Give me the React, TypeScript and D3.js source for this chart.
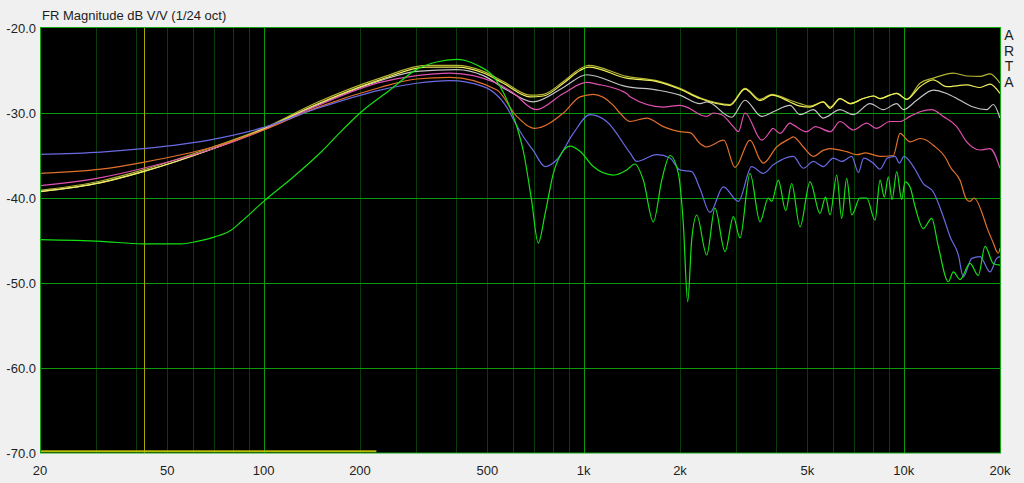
import React from "react";
import * as d3 from "d3";

const W = 1024;
const H = 483;

const xTickVals = [20, 50, 100, 200, 500, 1000, 2000, 5000, 10000, 20000];
const xTickLabels = ["20", "50", "100", "200", "500", "1k", "2k", "5k", "10k", "20k"];
const yTickVals = [-20, -30, -40, -50, -60, -70];
const yTickLabels = ["-20.0", "-30.0", "-40.0", "-50.0", "-60.0", "-70.0"];
const minorGrid = [30, 40, 50, 60, 70, 80, 90, 200, 300, 400, 500, 600, 700, 800, 900, 2000, 3000, 4000, 5000, 6000, 7000, 8000, 9000];
const majorGrid = [100, 1000, 10000];
const cursorFreq = 42.3;
const rangeBar = [20, 225];
const rangeBarDb = -69.8;

const oliveData: [number, number][] = [[20,-39.1],[31,-38.0],[42,-36.7],[69.4,-34.0],[100,-31.8],[146,-28.8],[231,-25.9],[323,-24.4],[401,-24.4],[486,-25.1],[561,-26.3],[680,-27.9],[748,-27.8],[864,-26.3],[974,-24.8],[1035,-24.4],[1363,-25.7],[1692,-26.2],[2000,-27.1],[2310,-28.2],[2867,-29.0],[3192,-27.1],[3557,-28.4],[3870,-27.8],[4414,-28.5],[4743,-28.9],[5098,-29.2],[5608,-28.7],[5887,-29.3],[6325,-28.3],[6798,-28.9],[7479,-28.3],[8040,-28.0],[8435,-28.3],[9064,-27.9],[9512,-27.7],[10218,-28.4],[11247,-26.5],[12376,-25.9],[14298,-25.3],[15738,-25.65],[17320,-25.7],[18612,-25.4],[20000,-26.5]];

const yellowData: [number, number][] = [[20,-39.26],[31,-38.2],[42,-36.9],[69.4,-34.2],[100,-31.9],[146,-29.0],[231,-26.1],[323,-24.6],[401,-24.6],[486,-25.3],[561,-26.5],[680,-28.1],[748,-28.0],[864,-26.5],[974,-25.0],[1035,-24.6],[1363,-25.9],[1692,-26.3],[2000,-27.2],[2310,-28.3],[2867,-29.1],[3192,-27.2],[3557,-28.55],[3870,-27.9],[4414,-28.7],[4743,-29.2],[5098,-29.3],[5608,-28.7],[5887,-29.45],[6325,-28.3],[6798,-28.9],[7479,-28.3],[8040,-28.0],[8435,-28.3],[9064,-27.9],[9512,-27.7],[10218,-28.4],[11247,-26.9],[12376,-26.1],[13630,-26.9],[15738,-26.7],[17320,-27.0],[18612,-26.6],[20000,-27.7]];

const grayData: [number, number][] = [[20,-39.26],[31,-38.2],[42,-36.9],[69.4,-34.2],[100,-31.9],[146,-29.1],[231,-26.2],[300,-25.1],[401,-24.9],[486,-25.6],[576,-27.3],[694,-28.7],[864,-27.0],[1022,-25.5],[1363,-26.9],[1700,-27.3],[2000,-27.9],[2310,-28.9],[2430,-28.7],[2900,-30.5],[3192,-28.5],[3600,-30.4],[3914,-29.85],[4414,-29.1],[4743,-30.2],[5222,-29.6],[5608,-30.6],[6325,-29.6],[6962,-30.2],[7852,-28.9],[8638,-29.6],[9512,-28.9],[9971,-29.6],[10986,-28.5],[12376,-27.3],[13630,-27.7],[14998,-28.5],[16510,-29.3],[18176,-29.6],[19060,-29.0],[20000,-30.6]];

const pinkData: [number, number][] = [[20,-38.55],[31,-37.6],[42,-36.5],[69.4,-34.2],[100,-32.0],[146,-29.2],[231,-26.4],[300,-25.6],[382,-25.3],[536,-26.5],[600,-27.6],[710,-29.6],[864,-27.7],[1022,-26.4],[1100,-26.6],[1363,-27.7],[1396,-28.1],[1774,-29.3],[2000,-29.1],[2150,-29.5],[2310,-30.2],[2424,-30.4],[2542,-30.0],[2700,-30.2],[2936,-31.6],[3044,-32.2],[3192,-30.0],[3600,-33.2],[3822,-32.2],[3900,-31.8],[4108,-32.4],[4414,-31.2],[4520,-31.4],[4977,-32.2],[5300,-31.6],[5900,-32.2],[6325,-31.0],[6962,-32.0],[7664,-31.2],[8200,-31.8],[9064,-31.0],[9738,-31.0],[10468,-30.4],[11247,-29.85],[12234,-29.6],[13300,-30.4],[14650,-31.6],[15738,-33.4],[17320,-34.35],[18612,-34.2],[20000,-36.5]];

const orangeData: [number, number][] = [[20,-37.1],[31,-36.6],[42,-35.8],[69.4,-34.0],[100,-32.0],[146,-29.4],[231,-27.0],[300,-26.0],[382,-25.8],[536,-27.3],[618,-30.4],[703,-31.8],[864,-30.0],[974,-28.1],[1072,-27.8],[1238,-29.1],[1298,-30.0],[1396,-31.0],[1574,-30.6],[1774,-31.6],[2000,-32.2],[2150,-32.3],[2310,-33.6],[2424,-34.0],[2740,-33.2],[2972,-36.4],[3310,-33.2],[3557,-35.5],[3642,-35.9],[4010,-34.0],[4414,-33.0],[4520,-32.8],[4857,-34.0],[5222,-35.1],[5600,-34.4],[5887,-34.2],[6636,-34.55],[7134,-34.9],[7600,-34.7],[8435,-35.1],[9283,-35.0],[9738,-32.4],[10468,-33.4],[11247,-33.0],[11800,-33.2],[12376,-33.8],[13630,-35.5],[13960,-36.3],[14998,-37.9],[15738,-40.2],[16122,-40.4],[16600,-40.0],[17738,-42.2],[18176,-43.4],[19060,-45.3],[19532,-46.3],[19758,-46.5],[20000,-45.9]];

const blueData: [number, number][] = [[20,-34.86],[31,-34.6],[42,-34.2],[69.4,-33.1],[100,-31.7],[146,-29.5],[231,-27.3],[300,-26.5],[382,-26.2],[486,-26.9],[589,-30.0],[604,-30.8],[648,-32.8],[694,-34.35],[758,-36.3],[824,-35.5],[928,-32.4],[1047,-30.2],[1180,-31.0],[1396,-34.7],[1464,-35.7],[1692,-34.9],[1861,-35.3],[2000,-36.7],[2176,-36.9],[2310,-38.9],[2482,-41.7],[2732,-38.7],[3044,-40.4],[3350,-36.3],[3642,-37.1],[3914,-36.1],[4108,-35.6],[4520,-35.1],[4857,-36.5],[5222,-35.7],[5608,-36.3],[6029,-35.3],[6402,-35.7],[6882,-35.1],[7217,-37.0],[7500,-35.3],[8040,-35.9],[8435,-36.6],[8900,-35.3],[9396,-35.1],[9700,-35.9],[10024,-35.1],[10720,-36.3],[11516,-38.3],[12376,-39.3],[13300,-42.2],[13960,-44.55],[14820,-46.7],[15358,-49.3],[16322,-47.1],[17320,-46.9],[18612,-48.7],[19532,-47.1],[20000,-46.9]];

const greenData: [number, number][] = [[20,-44.9],[31,-45.1],[42,-45.4],[55,-45.4],[62,-45.1],[70,-44.6],[79,-43.8],[85,-42.8],[100,-40.4],[124,-37.5],[152,-34.5],[170,-32.6],[200,-30.0],[248,-27.3],[300,-24.9],[347,-24.0],[401,-23.7],[463,-24.35],[522,-25.7],[576,-28.5],[618,-31.6],[648,-34.5],[687,-40.2],[721,-45.3],[758,-41.8],[804,-37.1],[854,-34.7],[906,-33.9],[974,-34.5],[1072,-36.3],[1238,-37.3],[1363,-36.7],[1446,-36.0],[1536,-37.9],[1651,-42.8],[1754,-37.9],[1861,-35.0],[1976,-37.1],[2048,-43.0],[2114,-52.2],[2176,-44.9],[2256,-42.0],[2424,-46.7],[2572,-41.2],[2766,-46.3],[2936,-42.2],[3080,-44.7],[3310,-37.1],[3557,-42.8],[3774,-40.0],[3870,-40.4],[4058,-37.9],[4280,-41.5],[4467,-38.3],[4743,-43.4],[5098,-38.1],[5477,-41.8],[5700,-39.9],[5887,-42.0],[6178,-37.3],[6402,-42.4],[6636,-37.7],[6882,-42.0],[7303,-40.0],[7664,-40.0],[8140,-42.6],[8435,-37.9],[8700,-39.9],[8954,-37.5],[9200,-40.2],[9512,-36.9],[9860,-40.2],[10096,-38.1],[10468,-38.7],[10852,-41.0],[11516,-43.6],[12234,-42.4],[12830,-45.7],[13788,-49.85],[14298,-48.7],[14998,-49.6],[16122,-47.7],[17114,-49.1],[17956,-45.7],[19060,-47.7],[20000,-47.9]];

const seriesList = [
  { name: "olive", data: oliveData, color: "#b4b432" },
  { name: "gray", data: grayData, color: "#c4c4c4" },
  { name: "yellow", data: yellowData, color: "#f0f05a" },
  { name: "pink", data: pinkData, color: "#e050b0" },
  { name: "orange", data: orangeData, color: "#e2702c" },
  { name: "blue", data: blueData, color: "#6a6ae4" },
  { name: "green", data: greenData, color: "#14e014" },
];

export default function App() {
  const left = 40, right = 1000, top = 28, bottom = 453;
  const x = d3.scaleLog().domain([20, 20000]).range([left, right]);
  const y = d3.scaleLinear().domain([-70, -20]).range([bottom, top]);
  const line = d3
    .line<[number, number]>()
    .x((d) => x(d[0]))
    .y((d) => y(d[1]))
    .curve(d3.curveMonotoneX);
  const font = "'Liberation Sans', Arial, sans-serif";
  const txt = "#1e1e1e";
  const px = (v: number) => Math.round(x(v)) + 0.5;
  const py = (v: number) => Math.round(y(v)) + 0.5;

  return (
    <svg
      width={W}
      height={H}
      style={{ position: "absolute", left: 0, top: 0, display: "block" }}
      fontFamily={font}
    >
      <rect x={0} y={0} width={W} height={H} fill="#f0f0f0" />
      <rect x={left} y={top} width={right - left} height={bottom - top} fill="#000" />
      <defs>
        <clipPath id="plotclip">
          <rect x={left} y={top} width={right - left} height={bottom - top} />
        </clipPath>
      </defs>
      {minorGrid.map((f) => (
        <line key={"m" + f} x1={px(f)} x2={px(f)} y1={top} y2={bottom} stroke="#0a3c0a" strokeWidth={1} />
      ))}
      {majorGrid.map((f) => (
        <line key={"M" + f} x1={px(f)} x2={px(f)} y1={top} y2={bottom} stroke="#0c9a0c" strokeWidth={1} />
      ))}
      {yTickVals.slice(1, -1).map((v) => (
        <line key={"h" + v} x1={left} x2={right} y1={py(v)} y2={py(v)} stroke="#0c9a0c" strokeWidth={1} />
      ))}
      <line x1={px(cursorFreq)} x2={px(cursorFreq)} y1={top} y2={bottom} stroke="#a8a800" strokeWidth={1} />
      <line x1={x(rangeBar[0])} x2={x(rangeBar[1])} y1={y(rangeBarDb)} y2={y(rangeBarDb)} stroke="#b8b800" strokeWidth={2} />
      <g clipPath="url(#plotclip)">
        {seriesList.map((s) => (
          <path key={s.name} d={line(s.data) || ""} fill="none" stroke={s.color} strokeWidth={1.2} strokeLinejoin="round" />
        ))}
      </g>
      <rect x={left + 0.5} y={top - 0.5} width={right - left} height={bottom - top + 0.5} fill="none" stroke="#12a412" strokeWidth={1} />
      <text x={42} y={20} fontSize={13} fill={txt}>FR Magnitude dB V/V (1/24 oct)</text>
      {yTickVals.map((v, i) => (
        <text key={"yt" + v} x={36} y={y(v) + 5} fontSize={13} fill={txt} textAnchor="end">
          {yTickLabels[i]}
        </text>
      ))}
      {xTickVals.map((v, i) => (
        <text key={"xt" + v} x={x(v)} y={475} fontSize={13} fill={txt} textAnchor="middle">
          {xTickLabels[i]}
        </text>
      ))}
      {["A", "R", "T", "A"].map((c, i) => (
        <text key={"a" + i} x={1009} y={40 + i * 15.5} fontSize={14} fill={txt} textAnchor="middle">
          {c}
        </text>
      ))}
    </svg>
  );
}
